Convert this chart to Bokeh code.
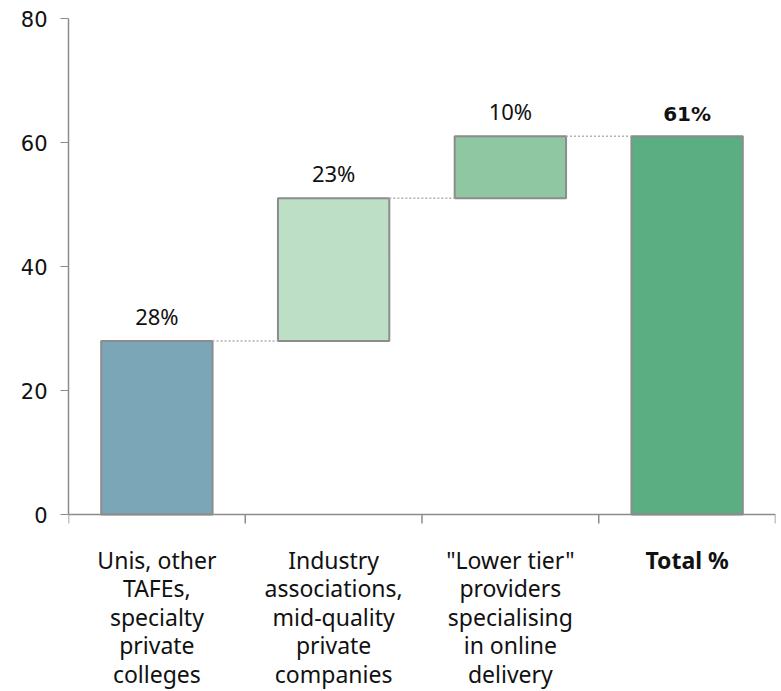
from bokeh.plotting import figure
from bokeh.models import Range1d, FixedTicker, ColumnDataSource
from bokeh.core.properties import value
from bokeh.embed import file_html
from bokeh.resources import INLINE

categories = [["Unis, other", "TAFEs,", "specialty", "private", "colleges"],
              ["Industry", "associations,", "mid-quality", "private", "companies"],
              ["\"Lower tier\"", "providers", "specialising", "in online", "delivery"],
              ["Total %"]]
values = [28, 23, 10, 61]
bases = [0, 28, 51, 0]
labels = ["28%", "23%", "10%", "61%"]
colors = ["#7AA6B8", "#BDDFC5", "#8FC7A2", "#5BAE82"]
y_ticks = [0, 20, 40, 60, 80]

W, H = 781, 691
TOP, BOTTOM_PX = 18, 177
px_per_unit = (H - TOP - BOTTOM_PX) / 80.0
ymin = -BOTTOM_PX / px_per_unit
ncat = len(values)

xs = [i + 0.5 for i in range(ncat)]
tops = [b + v for b, v in zip(bases, values)]

p = figure(width=W, height=H, output_backend="svg", toolbar_location=None,
           x_range=Range1d(0, ncat), y_range=Range1d(ymin, 80),
           min_border_left=68, min_border_right=6, min_border_top=TOP, min_border_bottom=0)
p.outline_line_color = None
p.xgrid.visible = False
p.ygrid.visible = False
p.xaxis.visible = False

src = ColumnDataSource(dict(x=xs, bottom=bases, top=tops, color=colors))
p.vbar(x="x", bottom="bottom", top="top", width=0.63, fill_color="color",
       line_color="#8C8C8C", line_width=2, source=src)

# connectors
cx0 = [xs[i] + 0.315 for i in range(ncat - 1)]
cx1 = [xs[i + 1] - 0.315 for i in range(ncat - 1)]
cy = [tops[i] for i in range(ncat - 1)]
p.segment(x0=cx0, y0=cy, x1=cx1, y1=cy, line_color="#B0B0B0", line_width=1.5, line_dash="2 2")

# category axis (baseline + boundary ticks)
bounds_x = list(range(ncat + 1))
p.segment(x0=[0], y0=[0], x1=[ncat], y1=[0], line_color="#8C8C8C", line_width=1.5)
p.segment(x0=bounds_x, y0=[0] * len(bounds_x), x1=bounds_x,
          y1=[-9 / px_per_unit] * len(bounds_x), line_color="#8C8C8C", line_width=1.5)

# value labels
p.text(x=xs[:3], y=tops[:3], text=labels[:3], text_align="center", text_baseline="middle",
       y_offset=-25, text_font=value("Noto Sans"), text_font_size="22px", text_color="#111111")
p.text(x=xs[3:], y=tops[3:], text=labels[3:], text_align="center", text_baseline="middle",
       y_offset=-22, text_font=value("DejaVu Sans"), text_font_size="20px",
       text_font_style="bold", text_color="#111111")

# category labels
lx, ly, lt, lstyle = [], [], [], []
for i, lines in enumerate(categories):
    for j, line in enumerate(lines):
        lx.append(xs[i])
        ly.append(-(45 + 28.6 * j) / px_per_unit)
        lt.append(line)
        lstyle.append("bold" if i == ncat - 1 else "normal")
p.text(x=lx, y=ly, text=lt, text_font_style=lstyle, text_align="center",
       text_baseline="alphabetic", text_font=value("Noto Sans"), text_font_size="23px",
       text_color="#111111")

# y axis
p.yaxis.bounds = (0, 80)
p.yaxis.ticker = FixedTicker(ticks=y_ticks)
p.yaxis.major_label_text_font = "DejaVu Sans"
p.yaxis.major_label_text_font_size = "21px"
p.yaxis.major_label_text_color = "#111111"
p.yaxis.axis_line_color = "#8C8C8C"
p.yaxis.axis_line_width = 1.5
p.yaxis.major_tick_line_color = "#8C8C8C"
p.yaxis.major_tick_out = 8
p.yaxis.major_tick_in = 0
p.yaxis.minor_tick_line_color = None
p.yaxis.major_label_standoff = 13

open("out.html", "w").write(file_html(p, INLINE))
